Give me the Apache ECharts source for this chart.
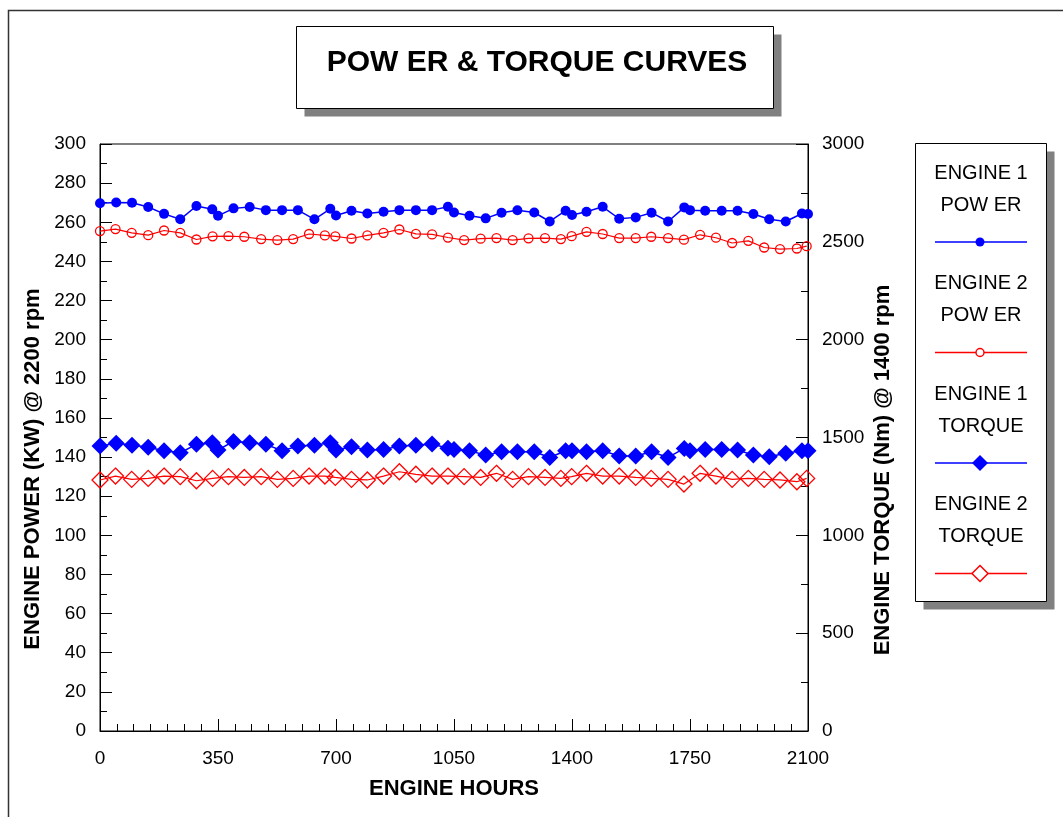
<!DOCTYPE html>
<html>
<head>
<meta charset="utf-8">
<title>Power & Torque Curves</title>
<script src="https://cdn.jsdelivr.net/npm/echarts@6.0.0/dist/echarts.min.js"></script>
<style>
  html, body { margin: 0; padding: 0; background: #fff; }
  #chart { width: 1063px; height: 817px; }
</style>
</head>
<body>
<div id="chart"></div>
<script>
// 发动机小时数（两台发动机的采样点略有不同）
const e1Hours = [0, 48, 95, 143, 190, 238, 286, 333, 350, 396, 444, 492, 540, 587, 636, 683, 700, 746, 793, 841,
  888, 937, 985, 1032, 1050, 1096, 1144, 1191, 1238, 1288, 1334, 1381, 1400, 1443, 1491, 1540, 1589, 1636, 1685, 1733,
  1750, 1795, 1844, 1891, 1938, 1985, 2034, 2082, 2100];
const e2Hours = [0, 46, 94, 143, 190, 238, 286, 334, 381, 428, 478, 526, 573, 620, 667, 698, 746, 793, 841, 888,
  937, 985, 1032, 1080, 1129, 1176, 1224, 1271, 1320, 1367, 1399, 1443, 1491, 1540, 1589, 1635, 1685, 1732, 1780, 1827,
  1875, 1923, 1970, 2017, 2067, 2096];

// 功率 KW @ 2200 rpm
const e1Power = [269.7, 270.1, 270, 267.8, 264.3, 261.5, 268.3, 266.6, 263.3, 267.1, 267.8, 266.2, 266.2, 266.2, 261.5, 266.9, 263.5, 265.9, 264.5, 265.4,
  266.2, 266.2, 266.2, 267.9, 265, 263.3, 262, 264.9, 266.1, 265, 260.4, 265.9, 263.7, 265.4, 267.9, 261.8, 262.5, 264.9, 260.4, 267.6,
  266.2, 265.9, 265.9, 265.9, 264.2, 261.5, 260.4, 264.5, 264.2];
const e2Power = [255.5, 256.5, 254.6, 253.4, 255.8, 254.6, 251.2, 252.8, 252.9, 252.6, 251.4, 250.9, 251.4, 254, 253.3, 252.8, 251.7, 253.3, 254.6, 256.3,
  254.1, 253.8, 252.2, 250.9, 251.6, 251.9, 250.9, 251.8, 251.9, 251.4, 252.9, 255.1, 254, 251.9, 251.9, 252.6, 251.9, 251.1, 253.6, 252.1,
  249.4, 250.5, 247.1, 246.3, 246.6, 247.8];

// 扭矩 Nm @ 1400 rpm
const e1Torque = [1456, 1470, 1461, 1450, 1432, 1422, 1465, 1473, 1436, 1480, 1473, 1465, 1432, 1456, 1461, 1473, 1436, 1453, 1436, 1439,
  1456, 1461, 1467, 1445, 1439, 1432, 1410, 1427, 1427, 1427, 1398, 1432, 1432, 1427, 1432, 1405, 1405, 1427, 1398, 1444,
  1432, 1439, 1439, 1436, 1410, 1402, 1419, 1432, 1432];
const e2Torque = [1283, 1303, 1286, 1291, 1303, 1300, 1279, 1291, 1300, 1296, 1300, 1286, 1291, 1303, 1303, 1296, 1286, 1283, 1303, 1325,
  1312, 1303, 1303, 1300, 1296, 1317, 1286, 1300, 1296, 1291, 1300, 1317, 1303, 1303, 1296, 1291, 1286, 1262, 1317, 1303,
  1286, 1291, 1286, 1283, 1274, 1291];

// 图例文字
const legendNames = [['ENGINE 1', 'POW ER'], ['ENGINE 2', 'POW ER'], ['ENGINE 1', 'TORQUE'], ['ENGINE 2', 'TORQUE']];

const FONT = 'Liberation Sans, Arial, sans-serif';
const BLUE = '#0000ff';
const RED = '#ff0000';

function pairs(xs, ys) {
  return xs.map((x, i) => [x, ys[i]]);
}

// 带阴影的方框：先画灰色阴影，再画白底黑边
function shadowBox(x, y, w, h) {
  return [{
    type: 'rect', silent: true,
    shape: { x: x + 8, y: y + 8, width: w, height: h },
    style: { fill: '#808080' }
  }, {
    type: 'rect', silent: true,
    shape: { x: x, y: y, width: w, height: h },
    style: { fill: '#fff', stroke: '#000', lineWidth: 1 }
  }];
}

const chart = echarts.init(document.getElementById('chart'));

// 图例：自己画的方框
const legendGraphics = shadowBox(915.5, 143.5, 131, 458);
const legendSymbols = ['dot', 'ring', 'diamond', 'hollowDiamond'];
legendNames.forEach((lines, i) => {
  const top = 173 + i * 110.5;
  legendGraphics.push({
    type: 'text', x: 981, y: top,
    style: { text: lines[0], font: '20px ' + FONT, fill: '#000', align: 'center', verticalAlign: 'middle' }
  });
  legendGraphics.push({
    type: 'text', x: 981, y: top + 32,
    style: { text: lines[1], font: '20px ' + FONT, fill: '#000', align: 'center', verticalAlign: 'middle' }
  });
  const ly = top + 69;
  const color = i % 2 === 0 ? BLUE : RED;
  legendGraphics.push({
    type: 'line', shape: { x1: 935, y1: ly, x2: 1027, y2: ly },
    style: { stroke: color, lineWidth: 1.5 }
  });
  const kind = legendSymbols[i];
  if (kind === 'dot') {
    legendGraphics.push({ type: 'circle', shape: { cx: 980, cy: ly, r: 4.5 }, style: { fill: BLUE } });
  } else if (kind === 'ring') {
    legendGraphics.push({ type: 'circle', shape: { cx: 980, cy: ly, r: 4 }, style: { fill: '#fff', stroke: RED, lineWidth: 1.5 } });
  } else {
    legendGraphics.push({
      type: 'polygon',
      shape: { points: [[980, ly - 8], [988, ly], [980, ly + 8], [972, ly]] },
      style: kind === 'diamond' ? { fill: BLUE } : { fill: '#fff', stroke: RED, lineWidth: 1.5 }
    });
  }
});

const plainNumber = v => String(v);

const option = {
  animation: false,
  backgroundColor: '#fff',
  textStyle: { fontFamily: FONT },
  grid: { left: 100, right: 255, top: 144, bottom: 86, show: true, borderColor: '#000', borderWidth: 1 },
  xAxis: {
    type: 'value',
    min: 0, max: 2100, interval: 350,
    name: 'ENGINE HOURS',
    nameLocation: 'middle',
    nameGap: 47,
    nameTextStyle: { fontSize: 22, fontWeight: 'bold', color: '#000', fontFamily: FONT },
    axisLine: { lineStyle: { color: '#000', width: 1 } },
    axisTick: { inside: true, length: 12, lineStyle: { color: '#000' } },
    minorTick: { show: true, splitNumber: 7, length: 7, lineStyle: { color: '#000' } },
    axisLabel: { fontSize: 19, color: '#000', margin: 18, fontFamily: FONT, formatter: plainNumber },
    splitLine: { show: false }
  },
  yAxis: [{
    type: 'value',
    min: 0, max: 300, interval: 20,
    position: 'left',
    axisLine: { show: true, lineStyle: { color: '#000', width: 1 } },
    axisTick: { show: true, inside: true, length: 12, lineStyle: { color: '#000' } },
    minorTick: { show: true, splitNumber: 2, length: 7, lineStyle: { color: '#000' } },
    axisLabel: { fontSize: 19, color: '#000', margin: 14, fontFamily: FONT, formatter: plainNumber },
    splitLine: { show: false }
  }, {
    type: 'value',
    min: 0, max: 3000, interval: 500,
    position: 'right',
    axisLine: { show: true, lineStyle: { color: '#000', width: 1 } },
    axisTick: { show: true, inside: true, length: 12, lineStyle: { color: '#000' } },
    minorTick: { show: true, splitNumber: 2, length: 7, lineStyle: { color: '#000' } },
    axisLabel: { fontSize: 19, color: '#000', margin: 14, fontFamily: FONT, formatter: plainNumber },
    splitLine: { show: false }
  }],
  graphic: [
    // 外框
    { type: 'rect', silent: true, shape: { x: 8.5, y: 10.5, width: 1100, height: 900 }, style: { fill: 'none', stroke: '#333', lineWidth: 1.5 } }
  ].concat(shadowBox(296.5, 26.5, 477, 82)).concat([
    {
      type: 'text', x: 537, y: 63,
      style: { text: 'POW ER & TORQUE CURVES', font: 'bold 30px ' + FONT, fill: '#000', align: 'center', verticalAlign: 'middle' }
    },
    // 纵轴名称
    {
      type: 'text', x: 33, y: 469, rotation: Math.PI / 2,
      style: { text: 'ENGINE POWER (KW) @ 2200 rpm', font: 'bold 22px ' + FONT, fill: '#000', align: 'center', verticalAlign: 'middle' }
    },
    {
      type: 'text', x: 883, y: 470, rotation: Math.PI / 2,
      style: { text: 'ENGINE TORQUE (Nm) @ 1400 rpm', font: 'bold 22px ' + FONT, fill: '#000', align: 'center', verticalAlign: 'middle' }
    }
  ]).concat(legendGraphics),
  series: [{
    name: 'ENGINE 1 POWER',
    type: 'line',
    yAxisIndex: 0,
    data: pairs(e1Hours, e1Power),
    symbol: 'circle',
    symbolSize: 10,
    clip: false,
    lineStyle: { color: BLUE, width: 1.5 },
    itemStyle: { color: BLUE }
  }, {
    name: 'ENGINE 2 POWER',
    type: 'line',
    yAxisIndex: 0,
    data: pairs(e2Hours, e2Power),
    symbol: 'circle',
    symbolSize: 9,
    clip: false,
    lineStyle: { color: RED, width: 1.2 },
    itemStyle: { color: 'rgba(255,255,255,0)', borderColor: RED, borderWidth: 1.3 }
  }, {
    name: 'ENGINE 1 TORQUE',
    type: 'line',
    yAxisIndex: 1,
    data: pairs(e1Hours, e1Torque),
    symbol: 'diamond',
    symbolSize: 17,
    clip: false,
    lineStyle: { color: BLUE, width: 1.5 },
    itemStyle: { color: BLUE }
  }, {
    name: 'ENGINE 2 TORQUE',
    type: 'line',
    yAxisIndex: 1,
    data: pairs(e2Hours, e2Torque),
    symbol: 'diamond',
    symbolSize: 16,
    clip: false,
    lineStyle: { color: RED, width: 1.2 },
    itemStyle: { color: 'rgba(255,255,255,0)', borderColor: RED, borderWidth: 1.3 }
  }]
};

chart.setOption(option);

window.addEventListener('resize', function() {
  chart.resize();
});
</script>
</body>
</html>
